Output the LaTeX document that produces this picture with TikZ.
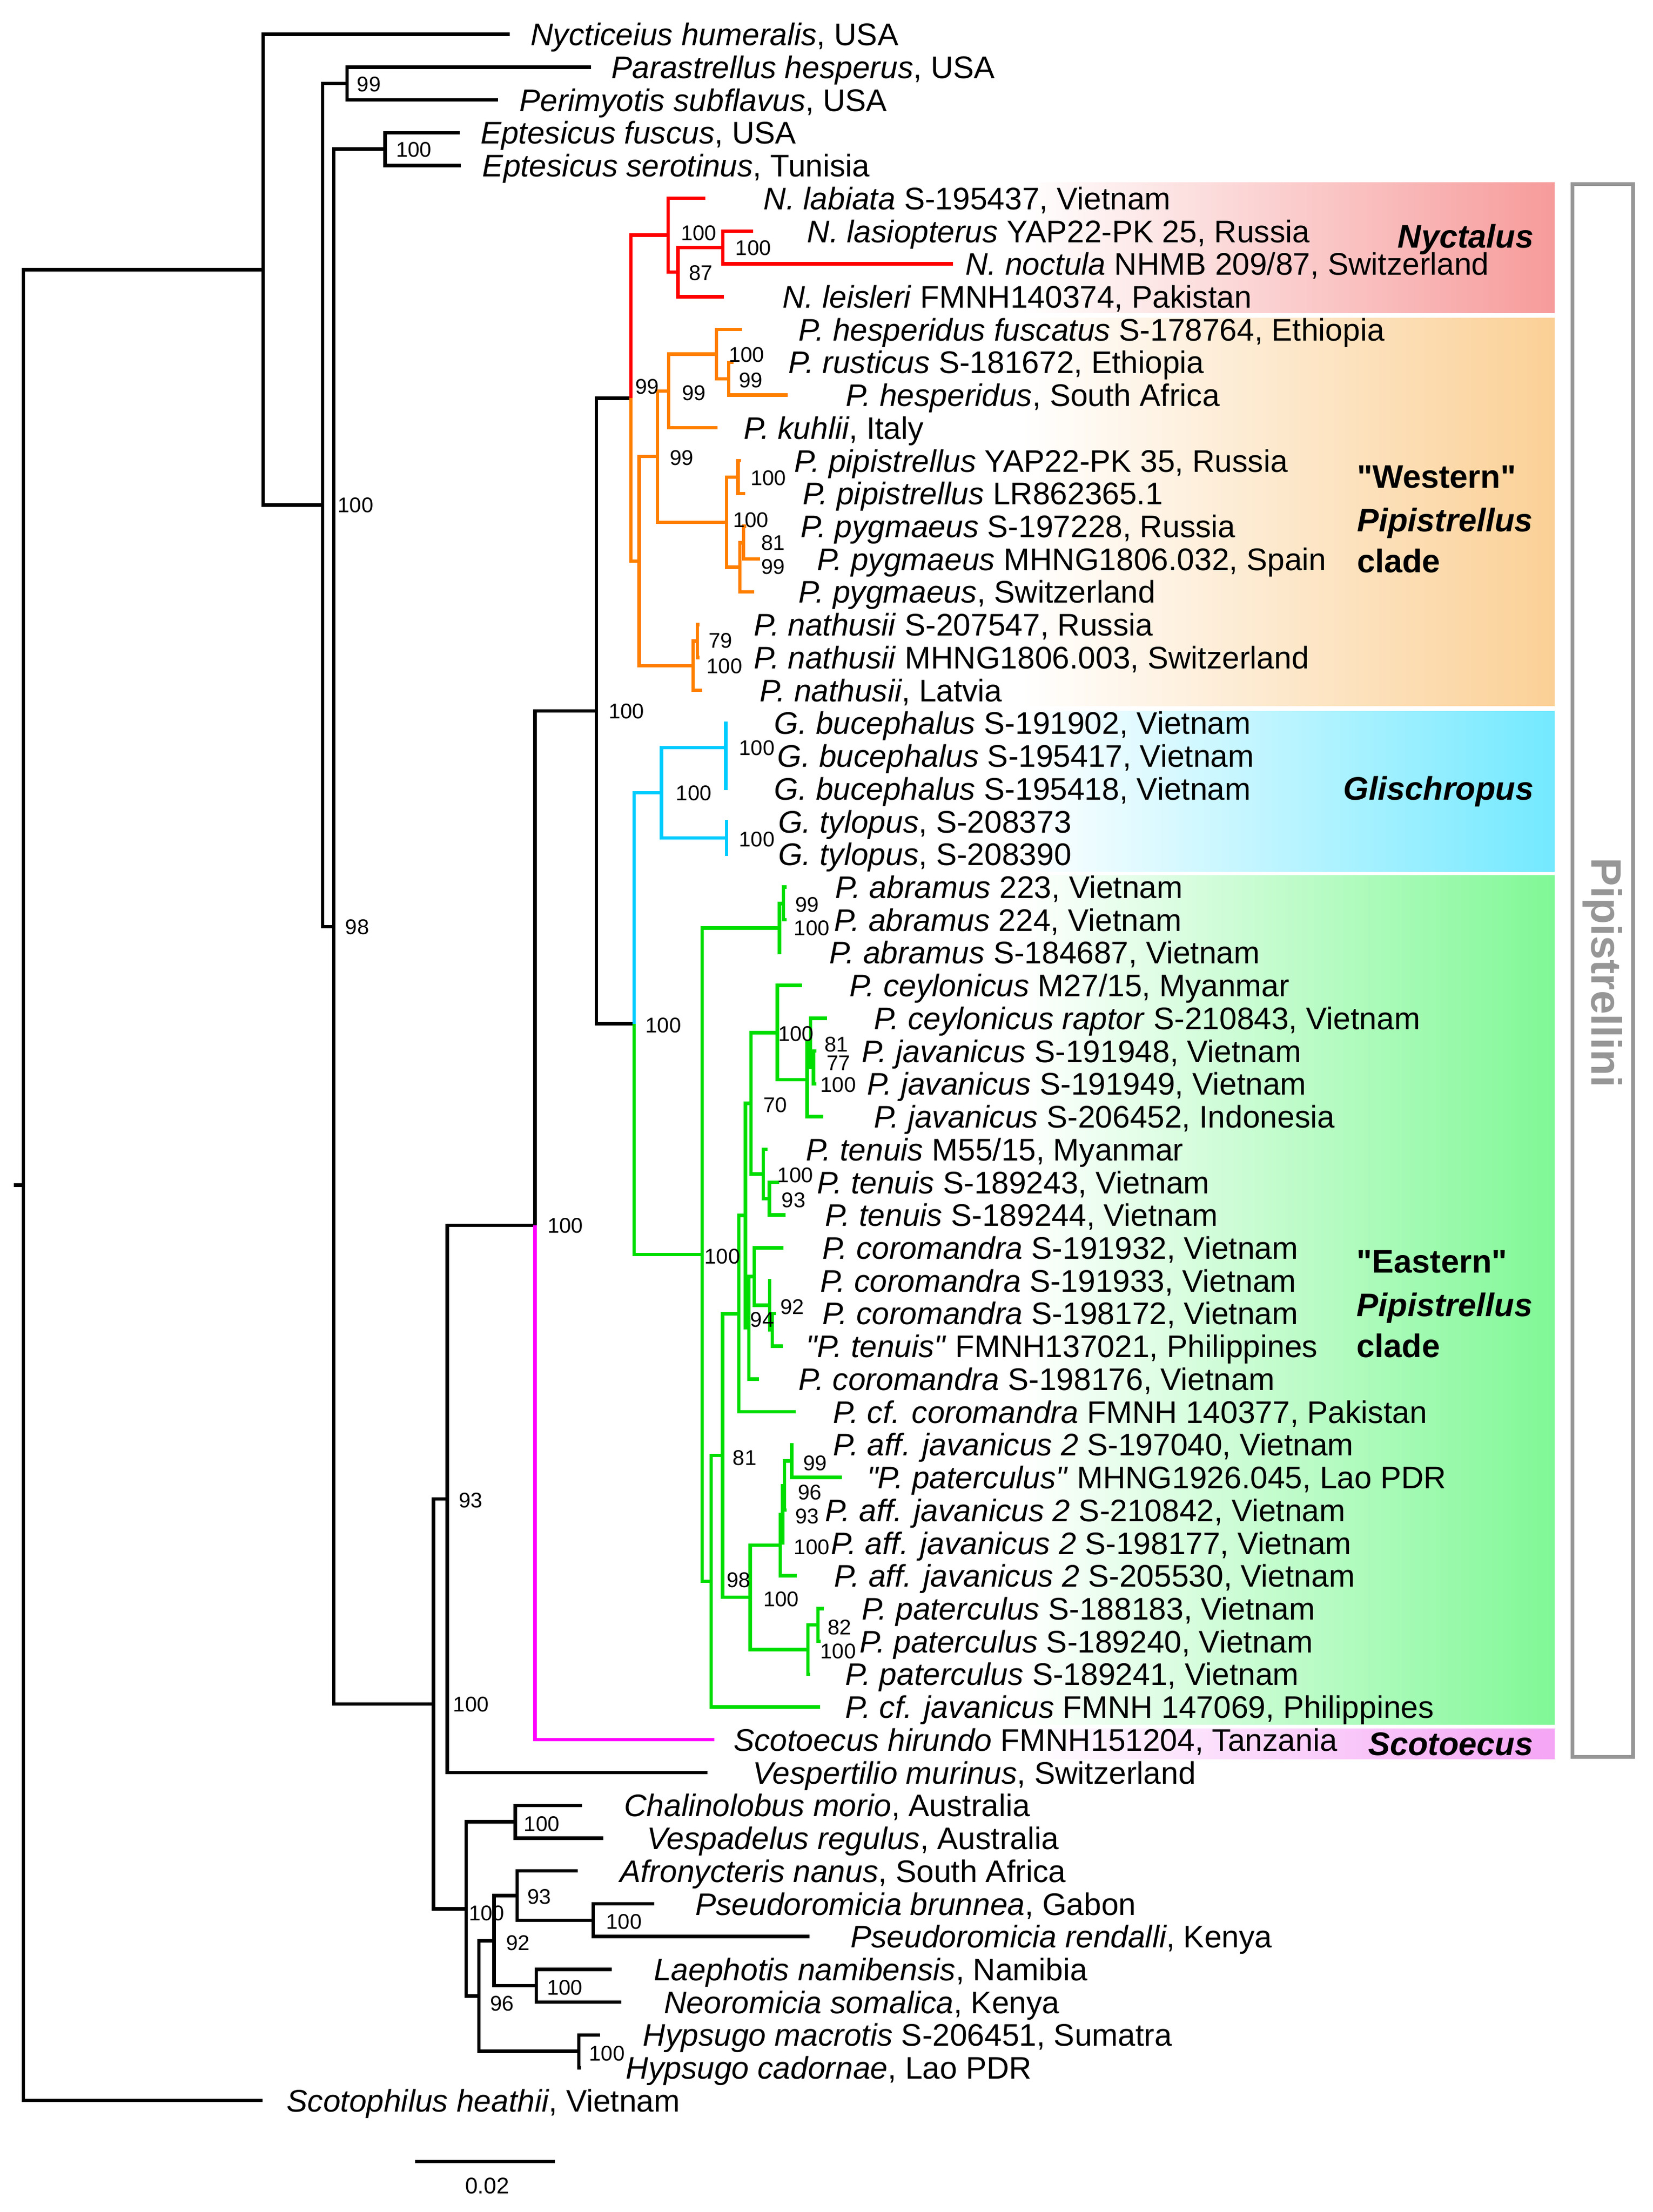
\documentclass[tikz,border=0pt]{standalone}
\usepackage{fontspec}
\setmainfont{Liberation Sans}[Ligatures=TeXOff]
\definecolor{nycC}{RGB}{247,155,155}
\definecolor{wesC}{RGB}{251,208,150}
\definecolor{gliC}{RGB}{115,233,255}
\definecolor{easC}{RGB}{128,248,150}
\definecolor{scoC}{RGB}{245,165,245}
\definecolor{cRed}{RGB}{255,0,0}
\definecolor{cOra}{RGB}{255,127,0}
\definecolor{cCya}{RGB}{0,204,255}
\definecolor{cGrn}{RGB}{0,221,0}
\definecolor{cMag}{RGB}{255,0,255}
\definecolor{brk}{RGB}{150,150,150}
\pgfdeclarehorizontalshading{shNyc}{100bp}{color(0bp)=(white); color(25bp)=(white); color(45bp)=(white); color(75bp)=(nycC); color(100bp)=(nycC)}
\pgfdeclarehorizontalshading{shWes}{100bp}{color(0bp)=(white); color(25bp)=(white); color(45bp)=(white); color(75bp)=(wesC); color(100bp)=(wesC)}
\pgfdeclarehorizontalshading{shGli}{100bp}{color(0bp)=(white); color(25bp)=(white); color(45bp)=(white); color(75bp)=(gliC); color(100bp)=(gliC)}
\pgfdeclarehorizontalshading{shEas}{100bp}{color(0bp)=(white); color(25bp)=(white); color(45bp)=(white); color(75bp)=(easC); color(100bp)=(easC)}
\pgfdeclarehorizontalshading{shSco}{100bp}{color(0bp)=(white); color(25bp)=(white); color(45bp)=(white); color(75bp)=(scoC); color(100bp)=(scoC)}
\begin{document}
\begin{tikzpicture}[x=1pt,y=-1pt,
  br/.style={line width=2.4pt},
  bBlk/.style={br,black},
  bRed/.style={br,cRed},
  bOra/.style={br,cOra},
  bCya/.style={br,cCya},
  bGrn/.style={br,cGrn},
  bMag/.style={br,cMag},
  lab/.style={anchor=base west, inner sep=0pt, yshift=-7.9pt, font=\fontsize{22}{26}\selectfont},
  bs/.style={anchor=base west, inner sep=0pt, yshift=-5.4pt, font=\fontsize{15}{18}\selectfont},
  clw/.style={anchor=base west, inner sep=0pt, yshift=-8.2pt, font=\fontsize{23}{28}\selectfont\bfseries},
  cle/.style={anchor=base east, inner sep=0pt, yshift=-8.2pt, font=\fontsize{23}{28}\selectfont\bfseries}
]
\useasboundingbox (0,0) rectangle (1165.4,1560);

% ---------- clade boxes ----------
\shade[shading=shNyc] (470,128.7) rectangle (1096,220.4);
\shade[shading=shWes] (470,224.3) rectangle (1096,497.9);
\shade[shading=shGli] (470,501.4) rectangle (1096,614.7);
\shade[shading=shEas] (470,617.5) rectangle (1096,1216.2);
\shade[shading=shSco] (470,1219.3) rectangle (1096,1240.4);

% ---------- Pipistrellini bracket ----------
\draw[line width=2.6pt, brk] (1108.5,130) rectangle (1151.5,1239);
\node[rotate=-90, inner sep=0pt, text=brk, font=\fontsize{30}{36}\selectfont\bfseries] (pip) at (1130,686) {Pipistrellini};

% ---------- internal nodes ----------
\coordinate (rs) at (9.7,835.79);
\coordinate (R) at (16.4,835.79);
\coordinate (A) at (185.5,190.18);
\coordinate (B) at (227.5,356.16);
\coordinate (PP) at (244.7,58.9);
\coordinate (C) at (235.3,653.42);
\coordinate (EP) at (271.5,105.16);
\coordinate (D) at (305.6,1201.68);
\coordinate (V) at (315.4,1057.13);
\coordinate (PI) at (377.2,864.17);
\coordinate (Q) at (420.5,501.38);
\coordinate (P0) at (444.8,280.8);
\coordinate (N1) at (471.1,165.87);
\coordinate (N2) at (478,191.89);
\coordinate (N3) at (509.7,174.55);
\coordinate (W0) at (450.6,395.73);
\coordinate (W1) at (463.5,322.0);
\coordinate (W2) at (471.5,275.74);
\coordinate (W3) at (505.1,249.72);
\coordinate (W4) at (513.7,267.07);
\coordinate (W5) at (512.3,368.26);
\coordinate (W6) at (520.3,336.46);
\coordinate (W7) at (521.7,400.06);
\coordinate (W8) at (524.3,382.72);
\coordinate (W9) at (488.7,469.45);
\coordinate (W10) at (491.6,452.11);
\coordinate (G0) at (447.1,721.95);
\coordinate (G1) at (466.4,559.08);
\coordinate (G2) at (511.7,527.28);
\coordinate (G2b) at (511.7,544.63);
\coordinate (G3) at (512.2,590.89);
\coordinate (E1) at (495,884.82);
\coordinate (A0) at (549.5,654.49);
\coordinate (A1) at (552.4,637.15);
\coordinate (E2) at (501.3,1115.15);
\coordinate (E3) at (509.4,1026.47);
\coordinate (E4) at (520.8,926.45);
\coordinate (E12) at (525.5,857.24);
\coordinate (CT) at (529.5,778.09);
\coordinate (C0) at (548.1,728.22);
\coordinate (C1) at (569,761.47);
\coordinate (C2) at (571.5,735.45);
\coordinate (C3) at (573.5,752.8);
\coordinate (T0) at (538.1,827.97);
\coordinate (T1) at (542.4,845.32);
\coordinate (CO) at (528,936.39);
\coordinate (CO1) at (531.8,900.25);
\coordinate (CO3) at (542.5,920.49);
\coordinate (CO4) at (544.5,937.84);
\coordinate (E5) at (528.9,1126.49);
\coordinate (E6) at (550.1,1089.63);
\coordinate (E9) at (551.8,1067.94);
\coordinate (E10) at (553,1047.7);
\coordinate (E11) at (558.1,1030.36);
\coordinate (E7) at (569.6,1163.35);
\coordinate (E8) at (576.8,1146.01);
\coordinate (D2) at (328.6,1346.22);
\coordinate (Ch) at (363.3,1284.79);
\coordinate (D3) at (337.6,1407.66);
\coordinate (D4) at (348.3,1368.63);
\coordinate (D5) at (364.5,1336.83);
\coordinate (PS) at (418.2,1354.18);
\coordinate (LN) at (378.2,1400.44);
\coordinate (H) at (408.1,1446.7);

% ---------- tip ends ----------
\coordinate (t1) at (359.4,24.2);
\coordinate (t2) at (416.8,47.33);
\coordinate (t3) at (351,70.46);
\coordinate (t4) at (324.3,93.59);
\coordinate (t5) at (325,116.72);
\coordinate (t6) at (497.1,139.85);
\coordinate (t7) at (530.8,162.98);
\coordinate (t8) at (671.8,186.11);
\coordinate (t9) at (510.5,209.24);
\coordinate (t10) at (523.2,232.37);
\coordinate (t11) at (517,255.5);
\coordinate (t12) at (555.3,278.63);
\coordinate (t13) at (506,301.76);
\coordinate (t14) at (522.5,324.89);
\coordinate (t15) at (525.2,348.02);
\coordinate (t16) at (526,371.15);
\coordinate (t17) at (536,394.28);
\coordinate (t18) at (531.7,417.41);
\coordinate (t19) at (493,440.54);
\coordinate (t20) at (493,463.67);
\coordinate (t21) at (495,486.8);
\coordinate (t22) at (513,509.93);
\coordinate (t23) at (513,533.06);
\coordinate (t24) at (513,556.19);
\coordinate (t25) at (513.5,579.32);
\coordinate (t26) at (513.5,602.45);
\coordinate (t27) at (554.5,625.58);
\coordinate (t28) at (554.5,648.71);
\coordinate (t29) at (551,671.84);
\coordinate (t30) at (565.3,694.97);
\coordinate (t31) at (583.1,718.1);
\coordinate (t32) at (575.5,741.23);
\coordinate (t33) at (575.5,764.36);
\coordinate (t34) at (580.5,787.49);
\coordinate (t35) at (541,810.62);
\coordinate (t36) at (549.5,833.75);
\coordinate (t37) at (553.8,856.88);
\coordinate (t38) at (552.4,880.01);
\coordinate (t39) at (543.8,903.14);
\coordinate (t40) at (547,926.27);
\coordinate (t41) at (551.8,949.4);
\coordinate (t42) at (535.2,972.53);
\coordinate (t43) at (561,995.66);
\coordinate (t44) at (559.5,1018.79);
\coordinate (t45) at (593.4,1041.92);
\coordinate (t46) at (554.5,1065.05);
\coordinate (t47) at (553,1088.18);
\coordinate (t48) at (561.6,1111.31);
\coordinate (t49) at (581,1134.44);
\coordinate (t50) at (578.5,1157.57);
\coordinate (t51) at (571,1180.7);
\coordinate (t52) at (578.2,1203.83);
\coordinate (t53) at (503.6,1226.96);
\coordinate (t54) at (498.9,1250.09);
\coordinate (t55) at (410.5,1273.22);
\coordinate (t56) at (425.4,1296.35);
\coordinate (t57) at (407.5,1319.48);
\coordinate (t58) at (461.2,1342.61);
\coordinate (t59) at (570.6,1365.74);
\coordinate (t60) at (431.4,1388.87);
\coordinate (t61) at (437.9,1412);
\coordinate (t62) at (423,1435.13);
\coordinate (t63) at (409.5,1458.26);
\coordinate (t64) at (185,1481.39);

% ---------- black branches ----------
\draw[bBlk] (rs) -- (R);
\draw[bBlk] (R) |- (A);  \draw[bBlk] (R) |- (t64);
\draw[bBlk] (A) |- (t1); \draw[bBlk] (A) |- (B);
\draw[bBlk] (B) |- (PP); \draw[bBlk] (PP) |- (t2); \draw[bBlk] (PP) |- (t3);
\draw[bBlk] (B) |- (C);
\draw[bBlk] (C) |- (EP); \draw[bBlk] (EP) |- (t4); \draw[bBlk] (EP) |- (t5);
\draw[bBlk] (C) |- (D);
\draw[bBlk] (D) |- (V); \draw[bBlk] (D) |- (D2);
\draw[bBlk] (V) |- (PI); \draw[bBlk] (V) |- (t54);
\draw[bBlk] (PI) |- (Q);
\draw[bBlk] (Q) |- (P0); \draw[bBlk] (Q) |- (G0);
\draw[bBlk] (D2) |- (Ch); \draw[bBlk] (Ch) |- (t55); \draw[bBlk] (Ch) |- (t56);
\draw[bBlk] (D2) |- (D3);
\draw[bBlk] (D3) |- (D4); \draw[bBlk] (D3) |- (H);
\draw[bBlk] (D4) |- (D5); \draw[bBlk] (D4) |- (LN);
\draw[bBlk] (D5) |- (t57); \draw[bBlk] (D5) |- (PS);
\draw[bBlk] (PS) |- (t58); \draw[bBlk] (PS) |- (t59);
\draw[bBlk] (LN) |- (t60); \draw[bBlk] (LN) |- (t61);
\draw[bBlk] (H) |- (t62); \draw[bBlk] (H) |- (t63);

% ---------- Scotoecus ----------
\draw[bMag] (PI) |- (t53);

% ---------- Nyctalus ----------
\draw[bRed] (P0) |- (N1);
\draw[bRed] (N1) |- (t6); \draw[bRed] (N1) |- (N2);
\draw[bRed] (N2) |- (N3); \draw[bRed] (N2) |- (t9);
\draw[bRed] (N3) |- (t7); \draw[bRed] (N3) |- (t8);

% ---------- Western Pipistrellus ----------
\draw[bOra] (P0) |- (W0);
\draw[bOra] (W0) |- (W1); \draw[bOra] (W0) |- (W9);
\draw[bOra] (W1) |- (W2); \draw[bOra] (W1) |- (W5);
\draw[bOra] (W2) |- (W3); \draw[bOra] (W2) |- (t13);
\draw[bOra] (W3) |- (t10); \draw[bOra] (W3) |- (W4);
\draw[bOra] (W4) |- (t11); \draw[bOra] (W4) |- (t12);
\draw[bOra] (W5) |- (W6); \draw[bOra] (W5) |- (W7);
\draw[bOra] (W6) |- (t14); \draw[bOra] (W6) |- (t15);
\draw[bOra] (W7) |- (W8); \draw[bOra] (W7) |- (t18);
\draw[bOra] (W8) |- (t16); \draw[bOra] (W8) |- (t17);
\draw[bOra] (W9) |- (W10); \draw[bOra] (W9) |- (t21);
\draw[bOra] (W10) |- (t19); \draw[bOra] (W10) |- (t20);

% ---------- Glischropus ----------
\draw[bCya] (G0) |- (G1);
\draw[bCya] (G1) |- (G2); \draw[bCya] (G1) |- (G3);
\draw[bCya] (G2) |- (t22); \draw[bCya] (G2) |- (G2b);
\draw[bCya] (G2b) |- (t23); \draw[bCya] (G2b) |- (t24);
\draw[bCya] (G3) |- (t25); \draw[bCya] (G3) |- (t26);

% ---------- Eastern Pipistrellus ----------
\draw[bGrn] (G0) |- (E1);
\draw[bGrn] (E1) |- (A0); \draw[bGrn] (E1) |- (E2);
\draw[bGrn] (A0) |- (A1); \draw[bGrn] (A0) |- (t29);
\draw[bGrn] (A1) |- (t27); \draw[bGrn] (A1) |- (t28);
\draw[bGrn] (E2) |- (E3); \draw[bGrn] (E2) |- (t52);
\draw[bGrn] (E3) |- (E4); \draw[bGrn] (E3) |- (E5);
\draw[bGrn] (E4) |- (E12); \draw[bGrn] (E4) |- (t43);
\draw[bGrn] (E12) |- (CT); \draw[bGrn] (E12) |- (CO);
\draw[bGrn] (CT) |- (C0); \draw[bGrn] (CT) |- (T0);
\draw[bGrn] (C0) |- (t30); \draw[bGrn] (C0) |- (C1);
\draw[bGrn] (C1) |- (C2); \draw[bGrn] (C1) |- (t34);
\draw[bGrn] (C2) |- (t31); \draw[bGrn] (C2) |- (C3);
\draw[bGrn] (C3) |- (t32); \draw[bGrn] (C3) |- (t33);
\draw[bGrn] (T0) |- (t35); \draw[bGrn] (T0) |- (T1);
\draw[bGrn] (T1) |- (t36); \draw[bGrn] (T1) |- (t37);
\draw[bGrn] (CO) |- (CO1); \draw[bGrn] (CO) |- (t42);
\draw[bGrn] (CO1) |- (t38); \draw[bGrn] (CO1) |- (CO3);
\draw[bGrn] (CO3) |- (t39); \draw[bGrn] (CO3) |- (CO4);
\draw[bGrn] (CO4) |- (t40); \draw[bGrn] (CO4) |- (t41);
\draw[bGrn] (E5) |- (E6); \draw[bGrn] (E5) |- (E7);
\draw[bGrn] (E6) |- (E9); \draw[bGrn] (E6) |- (t48);
\draw[bGrn] (E9) |- (E10); \draw[bGrn] (E9) |- (t47);
\draw[bGrn] (E10) |- (E11); \draw[bGrn] (E10) |- (t46);
\draw[bGrn] (E11) |- (t44); \draw[bGrn] (E11) |- (t45);
\draw[bGrn] (E7) |- (E8); \draw[bGrn] (E7) |- (t51);
\draw[bGrn] (E8) |- (t49); \draw[bGrn] (E8) |- (t50);

% ---------- taxon labels ----------
\node[lab] (l1) at (374,24.2) {\textit{Nycticeius humeralis}, USA};
\node[lab] (l2) at (431,47.33) {\textit{Parastrellus hesperus}, USA};
\node[lab] (l3) at (366,70.46) {\textit{Perimyotis subflavus}, USA};
\node[lab] (l4) at (338.6,93.59) {\textit{Eptesicus fuscus}, USA};
\node[lab] (l5) at (340,116.72) {\textit{Eptesicus serotinus}, Tunisia};
\node[lab] (l6) at (538.2,139.85) {\textit{N. labiata} S-195437, Vietnam};
\node[lab] (l7) at (569,162.98) {\textit{N. lasiopterus} YAP22-PK 25, Russia};
\node[lab] (l8) at (680.4,186.11) {\textit{N. noctula} NHMB 209/87, Switzerland};
\node[lab] (l9) at (551.6,209.24) {\textit{N. leisleri} FMNH140374, Pakistan};
\node[lab] (l10) at (563,232.37) {\textit{P. hesperidus fuscatus} S-178764, Ethiopia};
\node[lab] (l11) at (555.7,255.5) {\textit{P. rusticus} S-181672, Ethiopia};
\node[lab] (l12) at (596,278.63) {\textit{P. hesperidus}, South Africa};
\node[lab] (l13) at (524.2,301.76) {\textit{P. kuhlii}, Italy};
\node[lab] (l14) at (560,324.89) {\textit{P. pipistrellus} YAP22-PK 35, Russia};
\node[lab] (l15) at (565.7,348.02) {\textit{P. pipistrellus} LR862365.1};
\node[lab] (l16) at (564.3,371.15) {\textit{P. pygmaeus} S-197228, Russia};
\node[lab] (l17) at (575.8,394.28) {\textit{P. pygmaeus} MHNG1806.032, Spain};
\node[lab] (l18) at (563,417.41) {\textit{P. pygmaeus}, Switzerland};
\node[lab] (l19) at (531.3,440.54) {\textit{P. nathusii} S-207547, Russia};
\node[lab] (l20) at (531.3,463.67) {\textit{P. nathusii} MHNG1806.003, Switzerland};
\node[lab] (l21) at (535.6,486.8) {\textit{P. nathusii}, Latvia};
\node[lab] (l22) at (545.7,509.93) {\textit{G. bucephalus} S-191902, Vietnam};
\node[lab] (l23) at (548,533.06) {\textit{G. bucephalus} S-195417, Vietnam};
\node[lab] (l24) at (545.7,556.19) {\textit{G. bucephalus} S-195418, Vietnam};
\node[lab] (l25) at (548.5,579.32) {\textit{G. tylopus}, S-208373};
\node[lab] (l26) at (548.5,602.45) {\textit{G. tylopus}, S-208390};
\node[lab] (l27) at (588.7,625.58) {\textit{P. abramus} 223, Vietnam};
\node[lab] (l28) at (588.1,648.71) {\textit{P. abramus} 224, Vietnam};
\node[lab] (l29) at (584.4,671.84) {\textit{P. abramus} S-184687, Vietnam};
\node[lab] (l30) at (598.7,694.97) {\textit{P. ceylonicus} M27/15, Myanmar};
\node[lab] (l31) at (615.9,718.1) {\textit{P. ceylonicus raptor} S-210843, Vietnam};
\node[lab] (l32) at (607.3,741.23) {\textit{P. javanicus} S-191948, Vietnam};
\node[lab] (l33) at (611,764.36) {\textit{P. javanicus} S-191949, Vietnam};
\node[lab] (l34) at (615.9,787.49) {\textit{P. javanicus} S-206452, Indonesia};
\node[lab] (l35) at (568,810.62) {\textit{P. tenuis} M55/15, Myanmar};
\node[lab] (l36) at (575.8,833.75) {\textit{P. tenuis} S-189243, Vietnam};
\node[lab] (l37) at (581.5,856.88) {\textit{P. tenuis} S-189244, Vietnam};
\node[lab] (l38) at (579.5,880.01) {\textit{P. coromandra} S-191932, Vietnam};
\node[lab] (l39) at (578.1,903.14) {\textit{P. coromandra} S-191933, Vietnam};
\node[lab] (l40) at (579.5,926.27) {\textit{P. coromandra} S-198172, Vietnam};
\node[lab] (l41) at (568,949.4) {\textit{"P. tenuis"} FMNH137021, Philippines};
\node[lab] (l42) at (562.9,972.53) {\textit{P. coromandra} S-198176, Vietnam};
\node[lab] (l43) at (587.3,995.66) {\textit{P. cf. coromandra} FMNH 140377, Pakistan};
\node[lab] (l44) at (587.3,1018.79) {\textit{P. aff. javanicus 2} S-197040, Vietnam};
\node[lab] (l45) at (611,1041.92) {\textit{"P. paterculus"} MHNG1926.045, Lao PDR};
\node[lab] (l46) at (581.5,1065.05) {\textit{P. aff. javanicus 2} S-210842, Vietnam};
\node[lab] (l47) at (585.8,1088.18) {\textit{P. aff. javanicus 2} S-198177, Vietnam};
\node[lab] (l48) at (588.1,1111.31) {\textit{P. aff. javanicus 2} S-205530, Vietnam};
\node[lab] (l49) at (607.3,1134.44) {\textit{P. paterculus} S-188183, Vietnam};
\node[lab] (l50) at (605.9,1157.57) {\textit{P. paterculus} S-189240, Vietnam};
\node[lab] (l51) at (595.9,1180.7) {\textit{P. paterculus} S-189241, Vietnam};
\node[lab] (l52) at (595.9,1203.83) {\textit{P. cf. javanicus} FMNH 147069, Philippines};
\node[lab] (l53) at (517,1226.96) {\textit{Scotoecus hirundo} FMNH151204, Tanzania};
\node[lab] (l54) at (530.7,1250.09) {\textit{Vespertilio murinus}, Switzerland};
\node[lab] (l55) at (439.9,1273.22) {\textit{Chalinolobus morio}, Australia};
\node[lab] (l56) at (456.1,1296.35) {\textit{Vespadelus regulus}, Australia};
\node[lab] (l57) at (436.9,1319.48) {\textit{Afronycteris nanus}, South Africa};
\node[lab] (l58) at (490.1,1342.61) {\textit{Pseudoromicia brunnea}, Gabon};
\node[lab] (l59) at (599.5,1365.74) {\textit{Pseudoromicia rendalli}, Kenya};
\node[lab] (l60) at (460.8,1388.87) {\textit{Laephotis namibensis}, Namibia};
\node[lab] (l61) at (468,1412) {\textit{Neoromicia somalica}, Kenya};
\node[lab] (l62) at (453.1,1435.13) {\textit{Hypsugo macrotis} S-206451, Sumatra};
\node[lab] (l63) at (441.1,1458.26) {\textit{Hypsugo cadornae}, Lao PDR};
\node[lab] (l64) at (202,1481.39) {\textit{Scotophilus heathii}, Vietnam};

% ---------- support values ----------
\node[bs] (sPP) at (251.6,59.4) {99};
\node[bs] (sEP) at (279,105.4) {100};
\node[bs] (sB) at (238,356) {100};
\node[bs] (sC) at (243.3,653.6) {98};
\node[bs] (sD) at (319.4,1201.7) {100};
\node[bs] (sV) at (323.3,1058) {93};
\node[bs] (sPI) at (385.9,864) {100};
\node[bs] (sD2) at (330.4,1349) {100};
\node[bs] (sCh) at (369.2,1286) {100};
\node[bs] (sD5) at (371.6,1337.6) {93};
\node[bs] (sPS) at (427.2,1355.2) {100};
\node[bs] (sD4) at (356.7,1370.2) {92};
\node[bs] (sLN) at (385.4,1401.6) {100};
\node[bs] (sD3) at (345.3,1412.9) {96};
\node[bs] (sH) at (415.2,1448) {100};
\node[bs] (sQ) at (429,501.5) {100};
\node[bs] (sP0) at (447.7,272.3) {99};
\node[bs] (sN1) at (479.9,164) {100};
\node[bs] (sN3) at (518.4,174.8) {100};
\node[bs] (sN2) at (485.6,192.4) {87};
\node[bs] (sW2) at (480.7,276.8) {99};
\node[bs] (sW3) at (513.7,249.9) {100};
\node[bs] (sW4) at (520.8,267.8) {99};
\node[bs] (sW1) at (472,322.5) {99};
\node[bs] (sW5) at (516.6,366.4) {100};
\node[bs] (sW6) at (529,336.8) {100};
\node[bs] (sW8) at (536.6,382.5) {81};
\node[bs] (sW7) at (536.6,399.6) {99};
\node[bs] (sW10) at (499.4,451.5) {79};
\node[bs] (sW9) at (498,469.5) {100};
\node[bs] (sG0) at (454.9,723) {100};
\node[bs] (sG1) at (476.4,559.1) {100};
\node[bs] (sG2) at (520.9,527.3) {100};
\node[bs] (sG3) at (520.9,591.7) {100};
\node[bs] (sA1) at (560.4,637.7) {99};
\node[bs] (sA0) at (559.6,654.4) {100};
\node[bs] (sC0) at (548.5,728.9) {100};
\node[bs] (sC2) at (581,736.5) {81};
\node[bs] (sC3) at (582.5,749.5) {77};
\node[bs] (sC1) at (578.2,765) {100};
\node[bs] (sCT) at (538,779.2) {70};
\node[bs] (sT0) at (548,828.6) {100};
\node[bs] (sT1) at (551,846.1) {93};
\node[bs] (sE1) at (496.5,886) {100};
\node[bs] (sCO3) at (550.1,921.4) {92};
\node[bs] (sCO) at (528.9,930.6) {94};
\node[bs] (sE3) at (516.5,1028) {81};
\node[bs] (sE11) at (566.2,1031.6) {99};
\node[bs] (sE10) at (562.4,1052.3) {96};
\node[bs] (sE9) at (560.4,1069.3) {93};
\node[bs] (sE6) at (559.6,1090.8) {100};
\node[bs] (sE5b) at (512.2,1114.1) {98};
\node[bs] (sE5) at (538,1127.5) {100};
\node[bs] (sE8) at (583.4,1147.3) {82};
\node[bs] (sE7) at (578.2,1164.3) {100};

% ---------- clade labels ----------
\node[cle] (cNyc) at (1081.5,166.5) {\textit{Nyctalus}};
\node[clw] (cW1) at (956.5,336.1) {"Western"};
\node[clw] (cW2) at (956.5,366.7) {\textit{Pipistrellus}};
\node[clw] (cW3) at (956.5,395.4) {clade};
\node[cle] (cGli) at (1081.5,556.1) {\textit{Glischropus}};
\node[clw] (cE1) at (956.3,889.6) {"Eastern"};
\node[clw] (cE2) at (956.3,920.2) {\textit{Pipistrellus}};
\node[clw] (cE3) at (956.3,948.9) {clade};
\node[cle] (cSco) at (1081.1,1229.8) {\textit{Scotoecus}};

% ---------- scale bar ----------
\coordinate (sb1) at (292.8,1524.3);
\coordinate (sb2) at (391.3,1524.3);
\draw[line width=2.4pt] (sb1) -- (sb2);
\node[anchor=base, inner sep=0pt, yshift=-5.7pt, font=\fontsize{16}{19}\selectfont] (sbl) at (343.5,1541.4) {0.02};
\end{tikzpicture}
\end{document}
